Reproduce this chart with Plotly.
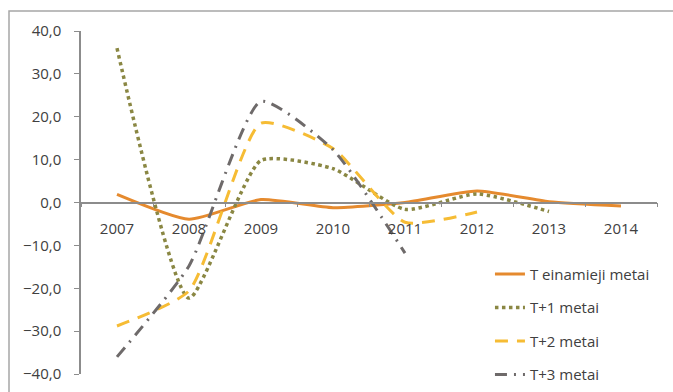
import plotly.graph_objects as go

# Forecast errors by horizon, percent
years = ["2007", "2008", "2009", "2010", "2011", "2012", "2013", "2014"]
t_current = [1.9, -3.9, 0.7, -1.2, 0.0, 2.7, 0.2, -0.8]
t_plus1 = [36.0, -22.3, 9.8, 7.9, -1.6, 2.0, -2.1, None]
t_plus2 = [-28.8, -20.6, 18.5, 12.6, -4.6, -2.2, None, None]
t_plus3 = [-36.0, -14.8, 23.6, 12.3, -11.8, None, None, None]

names = ["T einamieji metai", "T+1 metai", "T+2 metai", "T+3 metai"]
series = [t_current, t_plus1, t_plus2, t_plus3]
colors = ["#E58A2E", "#8A8743", "#F6BC34", "#6E6A6A"]
dashes = ["solid", "dot", "13px,9px", "12px,7px,2px,7px"]
widths = [3, 3.5, 3, 3]

fig = go.Figure()
for i, (nm, vals) in enumerate(zip(names, series)):
    fig.add_trace(go.Scatter(
        x=years, y=vals, name=nm, mode="lines",
        line=dict(color=colors[i], dash=dashes[i], width=widths[i],
                  shape="spline", smoothing=0.55),
        legendgroup=f"g{i}",
        connectgaps=False,
    ))

text_color = "#404040"
axis_color = "#8C8C8C"
fsize = 15

fig.update_layout(
    width=673, height=392,
    margin=dict(l=81, r=16, t=31, b=18, autoexpand=False),
    paper_bgcolor="white", plot_bgcolor="white",
    font=dict(family="Open Sans", size=fsize, color=text_color),
    separators=",.",
    showlegend=True,
    legend=dict(
        x=0.71, y=0.339, xanchor="left", yanchor="top",
        bgcolor="rgba(0,0,0,0)", tracegroupgap=11,
        font=dict(size=fsize, color=text_color),
    ),
    xaxis=dict(
        type="category", anchor="free", position=0.5, automargin=False,
        showline=True, linecolor=axis_color, linewidth=1.5,
        ticks="outside", ticklen=4, tickcolor=axis_color, tickson="boundaries",
        showgrid=False, zeroline=False,
        tickfont=dict(size=fsize, color=text_color),
        ticklabelstandoff=13,
        range=[-0.5, 7.5],
    ),
    yaxis=dict(
        range=[-40, 40], dtick=10, tickformat=".1f", automargin=False,
        showline=True, linecolor=axis_color, linewidth=1.5,
        ticks="outside", ticklen=5, tickcolor=axis_color,
        showgrid=False, zeroline=False,
        tickfont=dict(size=fsize, color=text_color),
        ticklabelstandoff=10,
    ),
    shapes=[dict(
        type="rect", xref="paper", yref="paper",
        x0=-0.125, x1=1.2, y0=-0.2, y1=1.058,
        line=dict(color="#A6A6A6", width=1.5), fillcolor="rgba(0,0,0,0)",
        layer="below",
    )],
)

fig.write_html("out.html")
